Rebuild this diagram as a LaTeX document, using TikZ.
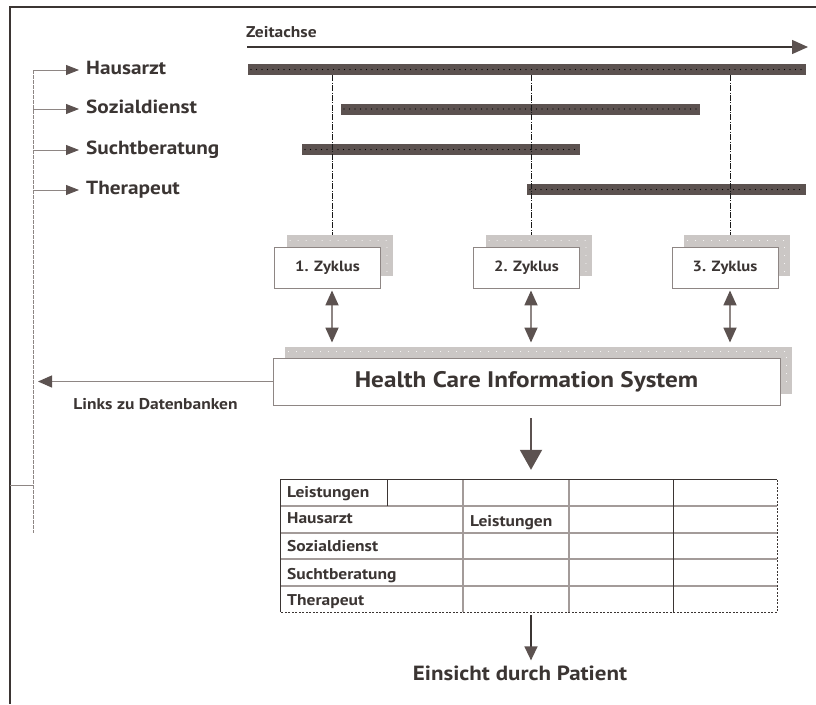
\documentclass[tikz,border=0pt]{standalone}
\usepackage{fontspec}
\setmainfont{PT Sans}[FakeStretch=1.12]
\usetikzlibrary{arrows.meta,calc,shadows}
\definecolor{ink}{HTML}{3B3533}
\definecolor{barc}{HTML}{5C5250}
\definecolor{shade}{HTML}{CBC7C5}
\definecolor{rule}{HTML}{8E8684}
\definecolor{tabgray}{HTML}{A39B99}
\begin{document}
\begin{tikzpicture}[x=1pt,y=-1pt,
  lbl/.style={text=ink, inner sep=0pt, anchor=west, text height=13pt, text depth=4pt,
    font=\bfseries\fontsize{19}{22}\selectfont},
  cell/.style={text=ink, inner sep=0pt, anchor=west, text height=11pt, text depth=3pt,
    font=\bfseries\fontsize{15.6}{17}\selectfont},
  bar/.style={fill=barc, minimum height=11pt, inner sep=0pt, anchor=west},
  bardots/.style={black, line width=1.1pt, line cap=round, dash pattern=on 0pt off 5.5pt},
  shdots/.style={white, line width=1pt, line cap=round, dash pattern=on 0pt off 8pt},
  cycleline/.style={black!90, line width=1pt, dash pattern=on 6pt off 1.5pt on 0.8pt off 1.5pt},
  brk/.style={rule, line width=0.8pt},
  zbox/.style={draw=rule, line width=0.9pt, fill=white, minimum width=106pt, minimum height=41pt,
    inner sep=0pt, text=ink, font=\bfseries\fontsize{14.8}{16}\selectfont,
    drop shadow={shadow xshift=12pt, shadow yshift=12pt, fill=shade, opacity=1}},
  hbox/.style={draw=rule, line width=0.9pt, fill=white, minimum width=507pt, minimum height=47pt,
    inner sep=0pt, text=ink, font=\bfseries\fontsize{22.5}{26}\selectfont,
    drop shadow={shadow xshift=12pt, shadow yshift=11pt, fill=shade, opacity=1}},
  headS/.style={-{Triangle[length=13pt,width=10pt,color=barc]}},
  dbl/.style={rule, line width=1.8pt,
    {Triangle[length=15pt,width=13pt,color=barc]}-{Triangle[length=15pt,width=13pt,color=barc]}},
  bigarrow/.style={barc, line width=2pt, -{Triangle[length=20pt,width=22pt]}},
  tabrule/.style={tabgray, line width=1.8pt},
]
\useasboundingbox (0,0) rectangle (816,704);

% frame
\draw[ink, line width=1.6pt] (816,7) -- (10,7) -- (10,704);

% time axis
\node[inner sep=0pt, anchor=south west, text=ink, font=\bfseries\fontsize{15.6}{18}\selectfont] (zt) at (246,38) {Zeitachse};
\coordinate (ax0) at (247,47);
\coordinate (ax1) at (808,47);
\draw[ink, line width=1.4pt, -{Triangle[length=16pt,width=14pt,color=barc]}] (ax0) -- (ax1);

% activity bars
\node[bar, minimum width=558pt] (bH) at (248,69.5) {};
\node[bar, minimum width=359pt] (bS) at (341,109) {};
\node[bar, minimum width=278pt] (bB) at (302,149.5) {};
\node[bar, minimum width=279pt] (bT) at (527,189.5) {};
\foreach \b in {bH,bS,bB,bT}
  \draw[bardots] ([xshift=3pt]\b.west) -- ([xshift=-2pt]\b.east);

% participants
\node[lbl] (lH) at (86,70) {Hausarzt};
\node[lbl] (lS) at (86,109) {Sozialdienst};
\node[lbl] (lB) at (86,150) {Suchtberatung};
\node[lbl] (lT) at (86,190) {Therapeut};
\coordinate (bt) at (33,70);
\coordinate (bb) at (33,533);
\coordinate (bl) at (10,485);
\draw[brk, dash pattern=on 4pt off 1pt] (bt) -- (bb);
\draw[brk] (bl) -- (bl -| bb);
\foreach \l in {lH,lS,lB,lT}
  \draw[brk, headS] (\l.west -| bb) -- ([xshift=-7pt]\l.west);

% cycles
\coordinate (c1) at (332,0);
\coordinate (c2) at (531,0);
\coordinate (c3) at (730,0);
\node[zbox] (z1) at (327.5,267.5) {1. Zyklus};
\node[zbox] (z2) at (526.5,267.5) {2. Zyklus};
\node[zbox] (z3) at (725,267.5) {3. Zyklus};
\foreach \z in {z1,z2,z3}
  \draw[shdots] ([shift={(16pt,6pt)}]\z.north west) -- ([shift={(6pt,6pt)}]\z.north east)
    -- ([shift={(6pt,16pt)}]\z.south east);

\foreach \z/\c in {z1/c1,z2/c2,z3/c3}
  \draw[cycleline] (bH.south -| \c) -- ($(\z.north -| \c)+(0,-12)$);

% information system
\node[hbox] (hcis) at (526.5,381.5) {Health Care Information System};
\draw[shdots] ([shift={(16pt,6pt)}]hcis.north west) -- ([shift={(6pt,6pt)}]hcis.north east)
  -- ([shift={(6pt,16pt)}]hcis.south east);

\foreach \z/\c in {z1/c1,z2/c2,z3/c3}
  \draw[dbl] ($(\z.south -| \c)+(0,2)$) -- ($(hcis.north -| \c)+(0,-15)$);

% links to databases
\coordinate (lk) at (38,382);
\draw[rule, line width=1.2pt, -{Triangle[length=14pt,width=12pt,color=barc]}] (hcis.west) -- (lk |- hcis.west);
\node[inner sep=0pt, text=ink, font=\bfseries\fontsize{15.6}{18}\selectfont] (lzd) at (155.5,404) {Links zu Datenbanken};

% overview table
\node[minimum width=496pt, minimum height=132pt, inner sep=0pt] (tab) at (529,546) {};
\draw[bigarrow] ($(hcis.south -| c2)+(0,13)$) -- ($(tab.north -| c2)+(0,-10)$);

\foreach \y in {506,533,559,586}
  \draw[tabrule] (281,\y) -- (777,\y);
\draw[tabrule] (463,480) -- (463,612);
\draw[tabrule] (569,480) -- (569,612);
\draw[ink, line width=1pt] (673,480) -- (673,612);
\draw[ink, line width=1pt] (387,480) -- (387,506);
\draw[ink, line width=1.2pt] (tab.south west) -- (tab.north west) -- (tab.north east);
\draw[ink, line width=1.2pt, dash pattern=on 2pt off 1.5pt] (tab.north east) -- (tab.south east) -- (tab.south west);

\node[cell] (tL1) at (287,493) {Leistungen};
\node[cell] (tH) at (287,519) {Hausarzt};
\node[cell] (tL2) at (470,522) {Leistungen};
\node[cell] (tS) at (287,547) {Sozialdienst};
\node[cell] (tB) at (287,575) {Suchtberatung};
\node[cell] (tT) at (287,601) {Therapeut};

% patient access
\node[inner sep=0pt, text=ink, font=\bfseries\fontsize{20.5}{24}\selectfont] (ein) at (520,673) {Einsicht durch Patient};
\draw[ink, line width=1.5pt, -{Triangle[length=14pt,width=13pt,color=barc]}] ($(tab.south -| c2)+(0,3)$) -- ($(ein.north -| c2)+(0,-5)$);
\end{tikzpicture}
\end{document}
